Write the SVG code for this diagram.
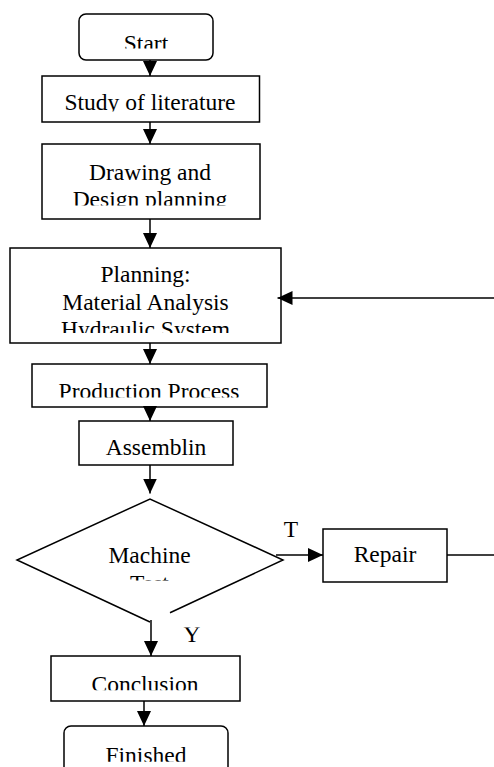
<svg xmlns="http://www.w3.org/2000/svg" width="494" height="767" viewBox="0 0 494 767">
<style>
.box{fill:#fff;stroke:#000;stroke-width:1.5}
.t{font-family:'Liberation Serif','Times New Roman',Tinos,'DejaVu Serif',serif;font-size:23.5px;fill:#000;text-anchor:middle}
.c{fill:none;stroke:#000;stroke-width:1.5}
</style>
<defs>
<marker id="ah" markerUnits="userSpaceOnUse" markerWidth="15" markerHeight="14" refX="15" refY="7" orient="auto">
<path d="M0,0 L15,7 L0,14 z" fill="#000"/>
</marker>
<clipPath id="cStart"><rect x="79" y="14" width="134" height="34.5"/></clipPath>
<clipPath id="cStudy"><rect x="42" y="76" width="218" height="35.5"/></clipPath>
<clipPath id="cDraw"><rect x="42" y="144" width="218" height="61.5"/></clipPath>
<clipPath id="cPlan"><rect x="10" y="248" width="271" height="85"/></clipPath>
<clipPath id="cProd"><rect x="32" y="364" width="235" height="33.5"/></clipPath>
<clipPath id="cMach"><rect x="40" y="530" width="220" height="50.5"/></clipPath>
<clipPath id="cConc"><rect x="51" y="656" width="189" height="34.3"/></clipPath>
<clipPath id="cFin"><rect x="64" y="726" width="164" height="35.8"/></clipPath>
<clipPath id="cY"><rect x="175" y="627.5" width="30" height="20"/></clipPath>
</defs>

<g font-family="Liberation Serif, serif">
<g id="start">
<rect class="box" x="79" y="14" width="134" height="46" rx="7"/>
<text class="t" x="146" y="51" clip-path="url(#cStart)">Start</text>
</g>
<g id="study">
<rect class="box" x="42" y="76" width="217.5" height="46"/>
<text class="t" x="150" y="109.5" clip-path="url(#cStudy)">Study of literature</text>
</g>
<g id="drawing">
<rect class="box" x="42" y="144" width="218" height="75"/>
<text class="t" clip-path="url(#cDraw)"><tspan x="150" y="179.5">Drawing and</tspan><tspan x="150" y="206.5">Design planning</tspan></text>
</g>
<g id="planning">
<rect class="box" x="10" y="248" width="271" height="95"/>
<text class="t" clip-path="url(#cPlan)"><tspan x="145.5" y="282">Planning:</tspan><tspan x="145.5" y="309.5">Material Analysis</tspan><tspan x="145.5" y="337">Hydraulic System</tspan></text>
</g>
<g id="production">
<rect class="box" x="32" y="364" width="235" height="43"/>
<text class="t" x="149" y="398.5" clip-path="url(#cProd)">Production Process</text>
</g>
<g id="assembling">
<rect class="box" x="79" y="421" width="154" height="44"/>
<text class="t" x="156" y="455">Assemblin</text>
</g>
<g id="machine-test">
<path class="c" d="M170,612.7 L283,560 L150,499 L17,560 L150,622"/>
<text class="t" clip-path="url(#cMach)"><tspan x="149.5" y="563">Machine</tspan><tspan x="149.5" y="591">Test</tspan></text>
</g>
<g id="repair">
<rect class="box" x="323" y="529" width="124" height="53"/>
<text class="t" x="385" y="562">Repair</text>
</g>
<g id="conclusion">
<rect class="box" x="51" y="656" width="189" height="45"/>
<text class="t" x="145" y="691.5" clip-path="url(#cConc)">Conclusion</text>
</g>
<g id="finished">
<rect class="box" x="64" y="726" width="164" height="60" rx="7"/>
<text class="t" x="146" y="762.5" clip-path="url(#cFin)">Finished</text>
</g>

<g id="connectors">
<line class="c" x1="150" y1="60" x2="150" y2="76" marker-end="url(#ah)"/>
<line class="c" x1="150" y1="122" x2="150" y2="144" marker-end="url(#ah)"/>
<line class="c" x1="150" y1="219" x2="150" y2="248" marker-end="url(#ah)"/>
<line class="c" x1="494" y1="298" x2="277.5" y2="298" marker-end="url(#ah)"/>
<line class="c" x1="150" y1="343" x2="150" y2="364" marker-end="url(#ah)"/>
<line class="c" x1="150" y1="407" x2="150" y2="421" marker-end="url(#ah)"/>
<line class="c" x1="150" y1="465" x2="150" y2="493.5" marker-end="url(#ah)"/>
<line class="c" x1="276" y1="555" x2="323" y2="555" marker-end="url(#ah)"/>
<line class="c" x1="447" y1="555" x2="494" y2="555"/>
<line class="c" x1="151" y1="620" x2="151" y2="656" marker-end="url(#ah)"/>
<line class="c" x1="144" y1="701" x2="144" y2="726" marker-end="url(#ah)"/>
<text class="t" x="291" y="537">T</text>
<text class="t" x="192" y="642" clip-path="url(#cY)">Y</text>
</g>
</g>
</svg>
